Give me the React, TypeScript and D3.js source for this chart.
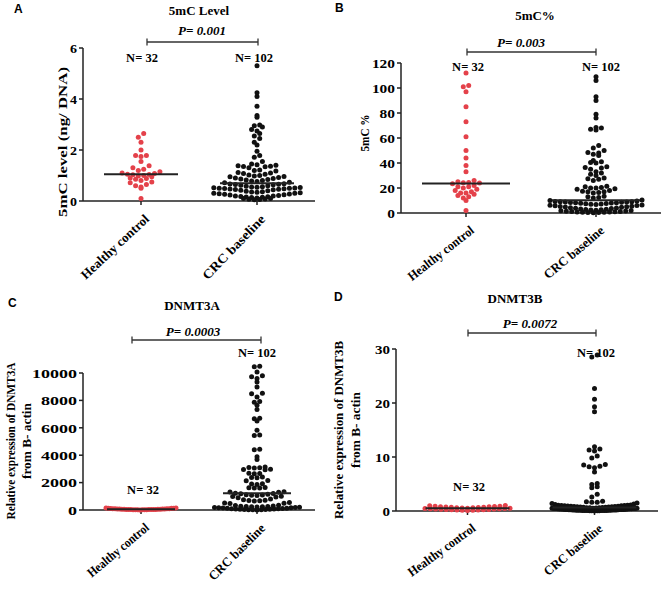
import React from 'react';
import * as d3 from 'd3';

const categories = ['Healthy control', 'CRC baseline'];

const aHealthy = [2.65, 2.5, 2.3, 2.0, 1.78, 1.78, 1.75, 1.55, 1.38, 1.3, 1.25, 1.2, 1.15, 1.1, 1.08, 1.05, 1.04, 1.03, 1.0, 0.98, 0.95, 0.9, 0.88, 0.85, 0.8, 0.75, 0.72, 0.65, 0.6, 0.55, 0.5, 0.1];
const aCRC = [5.3, 4.25, 4.1, 3.72, 3.35, 3.28, 2.98, 2.95, 2.9, 2.8, 2.75, 2.65, 2.55, 2.45, 2.3, 2.2, 1.95, 1.78, 1.72, 1.55, 1.45, 1.42, 1.4, 1.38, 1.36, 1.35, 1.34, 1.3, 1.22, 1.2, 1.18, 1.12, 1.1, 1.08, 1.05, 1.02, 1.0, 0.98, 0.96, 0.95, 0.92, 0.9, 0.88, 0.86, 0.84, 0.82, 0.8, 0.78, 0.76, 0.74, 0.72, 0.68, 0.67, 0.66, 0.65, 0.64, 0.62, 0.6, 0.58, 0.56, 0.55, 0.54, 0.53, 0.52, 0.51, 0.5, 0.5, 0.49, 0.48, 0.47, 0.46, 0.45, 0.44, 0.42, 0.4, 0.38, 0.36, 0.35, 0.34, 0.32, 0.3, 0.3, 0.28, 0.27, 0.26, 0.25, 0.24, 0.22, 0.2, 0.2, 0.18, 0.17, 0.16, 0.15, 0.14, 0.12, 0.1, 0.1, 0.08, 0.07, 0.06, 0.05];

const bHealthy = [112, 102, 101, 97, 85, 73, 61, 50, 44, 38, 33, 26, 25, 24.5, 24.2, 24, 23.4, 22, 21, 21, 20, 19, 18, 17, 16, 16, 15, 14, 13, 12, 10, 2];
const bCRC = [109, 106, 93, 90, 79, 76, 68.5, 68, 67, 66.5, 54, 52, 50, 48.5, 48, 47, 46, 42, 41, 40.5, 40, 37, 36.5, 36, 35, 33, 32, 31, 30, 28, 27.5, 27, 26, 21.5, 21, 20.5, 20, 20, 19.5, 19, 18, 17.5, 17, 17, 16.5, 16, 13.5, 13, 12.5, 12, 10.5, 10, 9.6, 9.3, 9.1, 9, 8.9, 8.8, 8.6, 8.5, 8.3, 8.2, 8, 7.9, 7.7, 7.5, 7.2, 7, 6.8, 6.5, 6.2, 6, 5.8, 5.5, 5.3, 5, 4.8, 4.6, 4.3, 4, 3.8, 3.6, 3.3, 3, 2.8, 2.6, 2.4, 2.2, 2, 1.8, 1.6, 1.5, 1.3, 1.2, 1, 0.9, 0.8, 0.7, 0.6, 0.5, 0.4, 0.3];

const cHealthy = [150, 140, 130, 125, 120, 110, 100, 95, 90, 85, 80, 75, 70, 65, 60, 55, 50, 48, 45, 42, 40, 38, 35, 30, 28, 25, 22, 20, 15, 12, 10, 5];
const cCRC = [10500, 10450, 10070, 9800, 9720, 9590, 9345, 8980, 8520, 8480, 8250, 7920, 7860, 7650, 7330, 6700, 6660, 6500, 5830, 5480, 5440, 4440, 4400, 3880, 3690, 3130, 3110, 3090, 3070, 2980, 2960, 2940, 2690, 2670, 2650, 2400, 2380, 2360, 2150, 2130, 1910, 1890, 1870, 1650, 1630, 1610, 1600, 1340, 1320, 1300, 1230, 1200, 1180, 1150, 1120, 1100, 1080, 1050, 1000, 980, 950, 900, 800, 750, 720, 700, 680, 650, 550, 520, 500, 480, 350, 320, 300, 280, 260, 250, 240, 230, 220, 200, 190, 180, 170, 160, 150, 130, 120, 110, 100, 90, 80, 70, 60, 50, 40, 30, 20, 15, 10, 5];

const dHealthy = [1.0, 0.95, 0.9, 0.88, 0.85, 0.8, 0.78, 0.75, 0.7, 0.68, 0.65, 0.6, 0.58, 0.55, 0.52, 0.5, 0.48, 0.45, 0.42, 0.4, 0.38, 0.35, 0.32, 0.3, 0.28, 0.25, 0.22, 0.2, 0.18, 0.15, 0.12, 0.1];
const dCRC = [28.9, 28.5, 22.7, 20.7, 19.3, 18.4, 11.9, 11.5, 11.3, 11.1, 10.2, 9.8, 8.6, 8.5, 8.3, 8.2, 8.0, 7.2, 5.1, 4.9, 4.5, 4.3, 3.1, 2.6, 1.8, 1.7, 1.6, 1.6, 1.5, 1.4, 1.3, 1.2, 1.1, 1.08, 1.05, 1.02, 1.0, 0.98, 0.95, 0.92, 0.9, 0.88, 0.85, 0.82, 0.8, 0.78, 0.75, 0.72, 0.7, 0.68, 0.65, 0.62, 0.6, 0.58, 0.55, 0.52, 0.5, 0.5, 0.48, 0.46, 0.45, 0.44, 0.42, 0.4, 0.4, 0.38, 0.36, 0.35, 0.34, 0.32, 0.3, 0.3, 0.28, 0.27, 0.26, 0.25, 0.24, 0.22, 0.2, 0.2, 0.19, 0.18, 0.17, 0.16, 0.15, 0.14, 0.13, 0.12, 0.11, 0.1, 0.1, 0.09, 0.08, 0.08, 0.07, 0.07, 0.06, 0.06, 0.05, 0.05, 0.04, 0.03];

const ticksA = [0, 2, 4, 6];
const ticksB = [0, 20, 40, 60, 80, 100, 120];
const ticksC = [0, 2000, 4000, 6000, 8000, 10000];
const ticksD = [0, 10, 20, 30];

const titles = ['5mC Level', '5mC%', 'DNMT3A', 'DNMT3B'];
const letters = ['A', 'B', 'C', 'D'];
const pValues = ['P= 0.001', 'P= 0.003', 'P= 0.0003', 'P= 0.0072'];
const yLabels = [['5mC level (ng/ DNA)'], ['5mC %'], ['Relative expression of DNMT3A', 'from B- actin'], ['Relative expression of DNMT3B', 'from B- actin']];

const SERIF = '"Liberation Serif", "Times New Roman", serif';
const SANS = '"Liberation Sans", Arial, sans-serif';
const RED = '#e4414a';
const BLACK = '#111';
const R = 2.5;

const layouts = [
  {
    healthy: aHealthy, crc: aCRC, ticks: ticksA, domain: [0, 6], yRange: [201, 48], axisX: 83, axisEnd: 315, catRange: [83, 315],
    letterPos: [14, 13], titlePos: [199, 15], pPos: [202, 35], bracket: [147, 258, 42],
    nHC: [142, 62], nCRC: [254, 62], yLab: [{ x: 67, len: 150 }], yLabY: 142, half: [37, 37], maxW: [42, 98], digitW: 7,
    labLen: [88, 84], labAng: [43, 46],
  },
  {
    healthy: bHealthy, crc: bCRC, ticks: ticksB, domain: [0, 120], yRange: [213, 63], axisX: 401, axisEnd: 661, catRange: [401, 661],
    letterPos: [335, 12], titlePos: [535, 20], pPos: [521, 47], bracket: [467, 596, 52],
    nHC: [468, 71], nCRC: [601, 71], yLab: [{ x: 369, len: 37 }], yLabY: 133, half: [44, 44], maxW: [32, 92], digitW: 7.7,
    labLen: [80, 74], labAng: [38, 40],
  },
  {
    healthy: cHealthy, crc: cCRC, ticks: ticksC, domain: [0, 10000], yRange: [510, 373], axisX: 83, axisEnd: 315, catRange: [83, 315],
    letterPos: [8, 307], titlePos: [192, 310], pPos: [193, 336], bracket: [132, 261, 340],
    nHC: [143, 494], nCRC: [257, 357], yLab: [{ x: 15, len: 157 }, { x: 31, len: 76 }], yLabY: 441, half: [34, 34], maxW: [70, 85], digitW: 9,
    labLen: [76, 74], labAng: [40, 45],
  },
  {
    healthy: dHealthy, crc: dCRC, ticks: ticksD, domain: [0, 30], yRange: [511, 349], axisX: 396, axisEnd: 658, catRange: [404, 658],
    letterPos: [334, 301], titlePos: [515, 303], pPos: [530, 328], bracket: [468, 596, 333],
    nHC: [469, 491], nCRC: [596, 357], yLab: [{ x: 343, len: 178 }, { x: 360, len: 76 }], yLabY: 430, half: [42, 42], maxW: [85, 85], digitW: 7.5,
    labLen: [80, 72], labAng: [36, 40],
  },
];

function swarm(vals: number[], y: d3.ScaleLinear<number, number>, cx: number, maxW: number) {
  const base = y.range()[0];
  const binH = 2 * R + 0.5;
  const pts = vals.map(v => ({ v, py: y(v) }));
  const bins = d3.groups(pts, p => Math.round((base - p.py) / binH));
  const out: { x: number; y: number }[] = [];
  for (const [, arr] of bins) {
    arr.sort((a, b) => d3.ascending(a.v, b.v));
    const n = arr.length;
    const s = n > 1 ? Math.min(2 * R + 0.4, maxW / (n - 1)) : 0;
    const offs = d3.range(n).map(i => (i - (n - 1) / 2) * s).sort((a, b) => Math.abs(a) - Math.abs(b) || a - b);
    arr.forEach((p, i) => out.push({ x: cx + offs[i], y: p.py }));
  }
  return out;
}

function Panel({ idx }: { idx: number }) {
  const L = layouts[idx];
  const y = d3.scaleLinear().domain(L.domain).range(L.yRange);
  const x = d3.scalePoint<string>().domain(categories).range(L.catRange as [number, number]).padding(0.5);
  const y0 = y(0);
  const groups = [L.healthy, L.crc];
  const colors = [RED, BLACK];
  return (
    <g>
      <text x={L.letterPos[0]} y={L.letterPos[1]} fontFamily={SANS} fontWeight="bold" fontSize={12}>{letters[idx]}</text>
      <text x={L.titlePos[0]} y={L.titlePos[1]} fontFamily={SERIF} fontWeight="bold" fontSize={13} textAnchor="middle">{titles[idx]}</text>
      <text x={L.pPos[0]} y={L.pPos[1]} fontFamily={SERIF} fontWeight="bold" fontStyle="italic" fontSize={13} textAnchor="middle">{pValues[idx]}</text>
      <g stroke="#333" strokeWidth={1.3}>
        <line x1={L.bracket[0]} x2={L.bracket[1]} y1={L.bracket[2]} y2={L.bracket[2]} />
        <line x1={L.bracket[0]} x2={L.bracket[0]} y1={L.bracket[2] - 3.5} y2={L.bracket[2] + 3.5} />
        <line x1={L.bracket[1]} x2={L.bracket[1]} y1={L.bracket[2] - 3.5} y2={L.bracket[2] + 3.5} />
      </g>
      <text x={L.nHC[0]} y={L.nHC[1]} fontFamily={SERIF} fontWeight="bold" fontSize={12.5} textAnchor="middle">{`N= ${L.healthy.length}`}</text>
      <text x={L.nCRC[0]} y={L.nCRC[1]} fontFamily={SERIF} fontWeight="bold" fontSize={12.5} textAnchor="middle">{`N= ${L.crc.length}`}</text>
      {yLabels[idx].map((t, i) => (
        <text key={i} transform={`translate(${L.yLab[i].x},${L.yLabY}) rotate(-90)`} fontFamily={SERIF} fontWeight="bold" fontSize={13.5}
          textAnchor="middle" textLength={L.yLab[i].len} lengthAdjust="spacingAndGlyphs">{t}</text>
      ))}
      <g stroke="#222" strokeWidth={1.5} fill="none">
        <line x1={L.axisX} x2={L.axisX} y1={y(L.domain[1])} y2={y0} />
        <line x1={L.axisX} x2={L.axisEnd} y1={y0} y2={y0} />
        {L.ticks.map(t => <line key={t} x1={L.axisX - 4} x2={L.axisX} y1={y(t)} y2={y(t)} />)}
        {categories.map(c => <line key={c} x1={x(c)} x2={x(c)} y1={y0} y2={y0 + 4} />)}
      </g>
      {L.ticks.map(t => {
        const s = String(t);
        return (
          <text key={t} x={L.axisX - 6} y={y(t)} dy="0.35em" textAnchor="end" fontFamily={SERIF} fontWeight="bold" fontSize={13.5}
            textLength={s.length * L.digitW} lengthAdjust="spacingAndGlyphs">{s}</text>
        );
      })}
      {categories.map((c, ci) => (
        <text key={c} transform={`translate(${(x(c) as number) + 9},${y0 + 19}) rotate(${-L.labAng[ci]})`} textAnchor="end"
          fontFamily={SERIF} fontWeight="bold" fontSize={13} textLength={L.labLen[ci]} lengthAdjust="spacingAndGlyphs">{c}</text>
      ))}
      {groups.map((vals, gi) => {
        const cx = x(categories[gi]) as number;
        const pts = swarm(vals, y, cx, L.maxW[gi]);
        return (
          <g key={gi}>
            {pts.map((p, i) => <circle key={i} cx={p.x} cy={p.y} r={R} fill={colors[gi]} />)}
          </g>
        );
      })}
      {groups.map((vals, gi) => {
        const cx = x(categories[gi]) as number;
        const m = y(d3.median(vals) as number);
        return <line key={'m' + gi} x1={cx - L.half[gi]} x2={cx + L.half[gi]} y1={m} y2={m} stroke="#222" strokeWidth={2} />;
      })}
    </g>
  );
}

export default function App() {
  return (
    <svg width={666} height={589} style={{ position: 'absolute', left: 0, top: 0, background: '#fff' }}>
      <rect width={666} height={589} fill="#fff" />
      {[0, 1, 2, 3].map(i => <Panel key={i} idx={i} />)}
    </svg>
  );
}
